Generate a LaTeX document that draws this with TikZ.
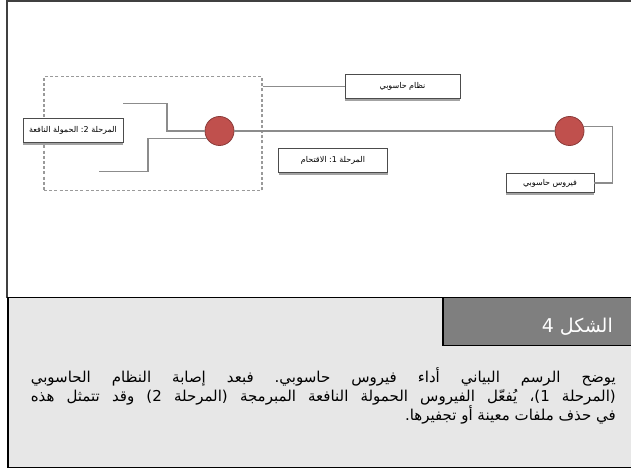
\documentclass[tikz,border=0pt]{standalone}
\usepackage{fontspec}
\newfontfamily\arabicfont[Script=Arabic]{DejaVu Sans}
\TeXXeTstate=1
\frenchspacing
\usetikzlibrary{shadows}
\definecolor{connc}{HTML}{8C8C8C}
\definecolor{dashc}{HTML}{9A9A9A}
\definecolor{redfill}{HTML}{C0504D}
\definecolor{redline}{HTML}{8A3B39}
\definecolor{panelc}{HTML}{E7E7E7}
\definecolor{headc}{HTML}{7F7F7F}
\definecolor{framec}{HTML}{404040}
\tikzset{
  connline/.style={draw=connc, line width=1.3pt},
  labelbox/.style={draw=black!70, line width=0.6pt, fill=white, inner sep=0pt,
    font=\arabicfont\fontsize{8}{9}\selectfont,
    drop shadow={shadow xshift=0.4pt, shadow yshift=-2pt, fill=black!40, opacity=0.9}},
  dot/.style={circle, draw=redline, line width=0.8pt, fill=redfill, minimum size=29pt, inner sep=0pt},
  groupbox/.style={draw=dashc, line width=1.2pt, dash pattern=on 3pt off 2.2pt, inner sep=0pt},
  bodyline/.style={anchor=base east, inner sep=0pt, text=black}
}
\begin{document}
\begin{tikzpicture}[x=1pt,y=-1pt]
\useasboundingbox (0,0) rectangle (631,470);
\fill[white] (0,0) rectangle (631,470);
% upper frame
\draw[framec, line width=2pt] (632,1) -- (7,1) -- (7,298);
% caption panel
\fill[panelc] (8,297.5) rectangle (632,467.5);
\fill[headc] (443,297.5) rectangle (632,345.5);
\draw[black, line width=1.3pt] (632,297.5) -- (8,297.5) -- (8,467.5) -- (632,467.5);
\draw[black, line width=1.3pt] (443,297.5) -- (443,345.5) -- (632,345.5);
\node[anchor=base east, inner sep=0pt, text=white, font=\arabicfont\fontsize{19}{21}\selectfont] (fig) at (613,332) {\beginR الشكل 4\endR};
\node[bodyline] (l1) at (616,382) {\hbox to 585pt{\arabicfont\fontsize{15}{18}\selectfont\beginR يوضح الرسم البياني أداء فيروس حاسوبي. فبعد إصابة النظام الحاسوبي\endR}};
\node[bodyline] (l2) at (616,401) {\hbox to 585pt{\arabicfont\fontsize{15}{18}\selectfont\beginR (المرحلة 1)، يُفعّل الفيروس الحمولة النافعة المبرمجة (المرحلة 2) وقد تتمثل هذه\endR}};
\node[bodyline] (l3) at (616,420) {\arabicfont\fontsize{15}{18}\selectfont\beginR في حذف ملفات معينة أو تجفيرها.\endR};
% diagram
\node[groupbox, minimum width=218pt, minimum height=114pt] (grp) at (153,133.7) {};
\node[dot] (c1) at (219.5,131) {};
\node[dot] (c2) at (569.5,131) {};
\node[labelbox, minimum width=115pt, minimum height=24.5pt] (sys) at (402.5,86.3) {\beginR نظام حاسوبي\endR};
\node[labelbox, minimum width=109pt, minimum height=24.5pt] (st1) at (333,160.5) {\beginR المرحلة 1: الاقتحام\endR};
\node[labelbox, minimum width=100pt, minimum height=24.5pt] (st2) at (73,130.5) {\beginR المرحلة 2: الحمولة النافعة\endR};
\node[labelbox, minimum width=88pt, minimum height=19.5pt] (vir) at (550,183) {\beginR فيروس حاسوبي\endR};
\coordinate (a1) at (123,103.3);
\coordinate (k1) at (167,131);
\coordinate (a2) at (99,171.7);
\coordinate (k2) at (148,138.3);
\coordinate (rv) at (612.5,126.8);
\draw[connline] (c1) -- (c2);
\draw[connline] (grp.east |- sys.west) -- (sys.west);
\draw[connline] (a1) -| (k1) -- (c1.west);
\draw[connline] (a2) -| (k2 |- c1.210) -- (c1.210);
\draw[connline] (c2.17) -- (c2.17 -| rv) |- (vir.east);
\end{tikzpicture}
\end{document}
